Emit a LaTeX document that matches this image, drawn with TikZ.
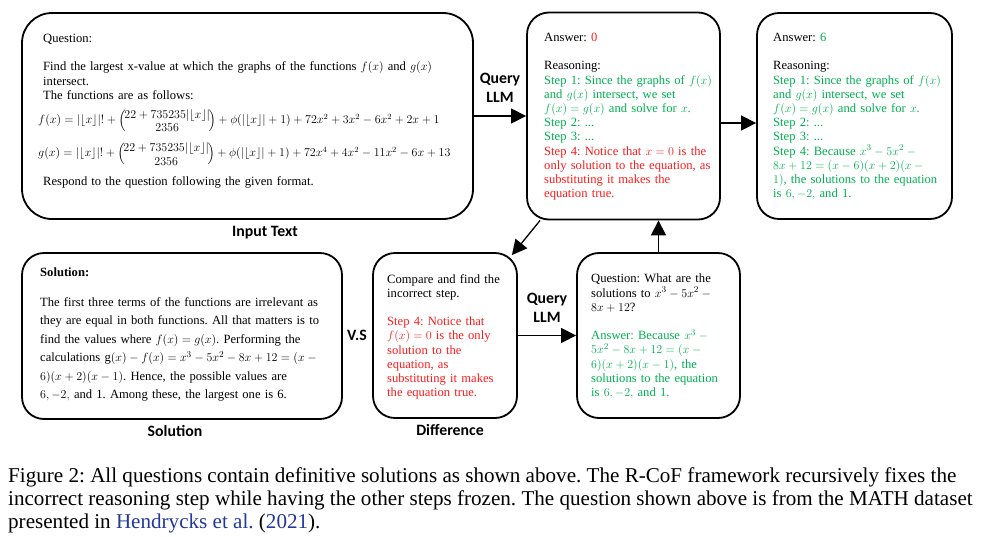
\documentclass[tikz,border=0pt]{standalone}
\usepackage{amsmath}
\usepackage{fontspec}
\setmainfont{Liberation Serif}
\newfontfamily\tagfont{Carlito}
\usetikzlibrary{arrows.meta}
\definecolor{okgreen}{HTML}{00B050}
\definecolor{badred}{HTML}{FF1A1A}
\definecolor{citeblue}{HTML}{22389C}
\frenchspacing

\begin{document}
\begin{tikzpicture}[x = 1pt, y = -1pt,
  card/.style = {draw, line width = 1.8pt, rounded corners = 22pt, inner sep = 0pt},
  body/.style = {anchor = north west, align = left, inner sep = 0pt, text width = 200pt,
                 font = \fontsize{12.6}{14.2}\selectfont},
  tag/.style = {align = center, font = \tagfont\bfseries\fontsize{15.8}{19.5}\selectfont},
  flow/.style = {line width = 1.3pt, -{Triangle[length = 15pt, width = 15pt]}}]

\useasboundingbox (0, 0) rectangle (994, 536);

% boxes
\node[card, rounded corners = 30pt, minimum width = 451pt, minimum height = 206pt] at (247.5, 116) (input) {};
\node[card, minimum width = 193pt, minimum height = 207pt] at (623.5, 116) (ans1) {};
\node[card, minimum width = 195pt, minimum height = 206pt] at (854.5, 116) (ans2) {};
\node[card, minimum width = 320pt, minimum height = 166pt] at (182, 336) (sol) {};
\node[card, minimum width = 144pt, minimum height = 165pt] at (445, 335.5) (diff) {};
\node[card, minimum width = 163pt, minimum height = 165pt] at (658.5, 335.5) (query) {};

% box texts
\node[body, text width = 430pt] at (43, 34) (inputtext) {Question:\\[14.2pt]
Find the largest x-value at which the graphs of the functions $f(x)$ and $g(x)$\\
intersect.\\
The functions are as follows:\\[10pt]
{\fontsize{11.9}{14.2}\selectfont\hspace*{-5pt}$f(x) = |\lfloor x\rfloor|! + \smash{\Bigl(\mkern-2mu\vcenter{\hbox{\shortstack{$22 + 735235|\lfloor x\rfloor|$\\$2356$}}}\mkern-2mu\Bigr)} + \phi(|\lfloor x\rfloor| + 1) + 72x^2 + 3x^2 - 6x^2 + 2x + 1$}\\[19pt]
{\fontsize{11.9}{14.2}\selectfont\hspace*{-5pt}$g(x) = |\lfloor x\rfloor|! + \smash{\Bigl(\mkern-2mu\vcenter{\hbox{\shortstack{$22 + 735235|\lfloor x\rfloor|$\\$2356$}}}\mkern-2mu\Bigr)} + \phi(|\lfloor x\rfloor| + 1) + 72x^4 + 4x^2 - 11x^2 - 6x + 13$}\\[14.5pt]
Respond to the question following the given format.};

\node[body] at (544, 33) (ans1text) {Answer: \textcolor{badred}{0}\\[14.2pt]
Reasoning:\\
\color{okgreen}Step 1: Since the graphs of $f(x)$\\
and $g(x)$ intersect, we set\\
$f(x) = g(x)$ and solve for $x$.\\
Step 2: ...\\
Step 3: ...\\
\color{badred}Step 4: Notice that $x = 0$ is the\\
only solution to the equation, as\\
substituting it makes the\\
equation true.};

\node[body] at (773, 33) (ans2text) {Answer: \textcolor{okgreen}{6}\\[14.2pt]
Reasoning:\\
\color{okgreen}Step 1: Since the graphs of $f(x)$\\
and $g(x)$ intersect, we set\\
$f(x) = g(x)$ and solve for $x$.\\
Step 2: ...\\
Step 3: ...\\
Step 4: Because $x^3 - 5x^2 -{}$\\
$8x + 12 = (x - 6)(x + 2)(x -{}$\\
$1)$, the solutions to the equation\\
is $6, -2,$ and 1.};

\node[body, text width = 300pt, font = \fontsize{12.6}{18.5}\selectfont] at (40, 268) (soltext) {\textbf{Solution:}\\[11pt]
The first three terms of the functions are irrelevant as\\
they are equal in both functions. All that matters is to\\
find the values where $f(x) = g(x)$. Performing the\\
calculations g$(x) - f(x) = x^3 - 5x^2 - 8x + 12 = (x -{}$\\
$6)(x + 2)(x - 1)$. Hence, the possible values are\\
$6, -2,$ and 1. Among these, the largest one is 6.};

\node[body] at (387, 274) (difftext) {Compare and find the\\
incorrect step.\\[14.2pt]
\color{badred}Step 4: Notice that\\
$f(x) = 0$ is the only\\
solution to the\\
equation, as\\
substituting it makes\\
the equation true.};

\node[body] at (591, 274) (querytext) {Question: What are the\\
solutions to $x^3 - 5x^2 -{}$\\
$8x + 12$?\\[14.2pt]
\color{okgreen}Answer: Because $x^3 -{}$\\
$5x^2 - 8x + 12 = (x -{}$\\
$6)(x + 2)(x - 1)$, the\\
solutions to the equation\\
is $6, -2,$ and 1.};

% labels
\node[tag] at (500, 88) (ask1) {Query\\LLM};
\node[tag] at (547, 308) (ask2) {Query\\LLM};
\node[tag] at (265, 233) (inputlabel) {Input Text};
\node[tag] at (175, 431) (sollabel) {Solution};
\node[tag] at (450, 430) (difflabel) {Difference};
\node[tag] at (357, 335) (vs) {V.S};

% connectors
\draw[flow] (input) -- (ans1);
\draw[flow] ([yshift = -7pt]ans1.east) -- ([yshift = -7pt]ans1.east -| ans2.west);
\draw[flow] (diff.east) -- (diff.east -| query.west);
\draw[flow] (query.north) -- (query.north |- ans1.south);
\draw[flow] ([xshift = 14pt]ans1.south west) -- ([xshift = -6pt, yshift = -3pt]diff.north east);

% caption
\node[anchor = north west, align = left, inner sep = 0pt, font = \fontsize{21.1}{23}\selectfont] at (8, 467) (caption) {Figure 2: All questions contain definitive solutions as shown above. The R-CoF framework recursively fixes the\\
incorrect reasoning step while having the other steps frozen. The question shown above is from the MATH dataset\\
presented in \textcolor{citeblue}{Hendrycks et al.} (\textcolor{citeblue}{2021}).};

\end{tikzpicture}
\end{document}
